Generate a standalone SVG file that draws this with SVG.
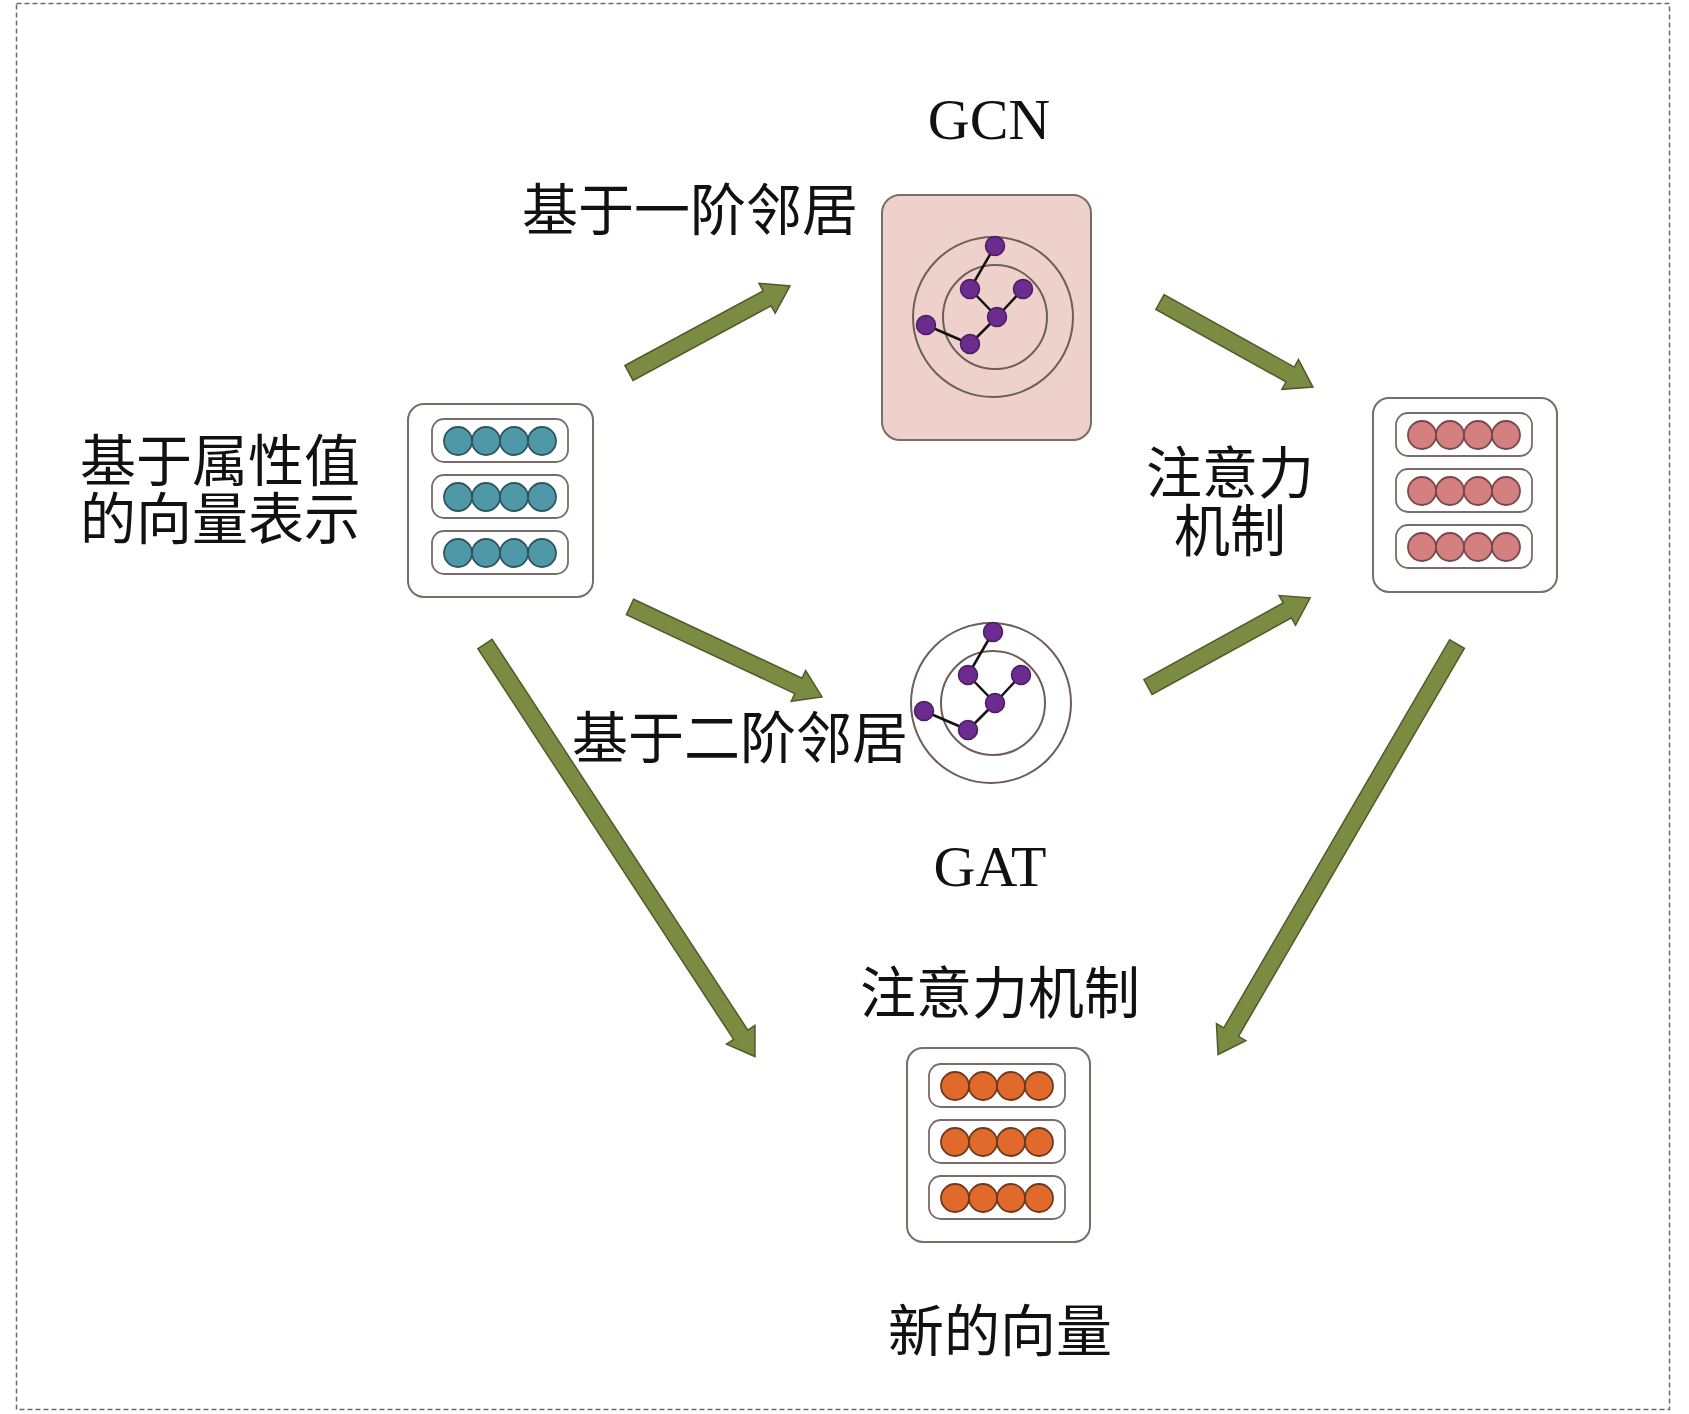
<svg xmlns="http://www.w3.org/2000/svg" width="1689" height="1414" viewBox="0 0 1689 1414">
<defs>
<style>
.frame{fill:none;stroke:#6b6b6b;stroke-width:1.5;stroke-dasharray:5 3}
.box{fill:#fff;stroke:#7a6c68;stroke-width:2}
.row{fill:#fff;stroke:#7a6c68;stroke-width:1.8}
.teal{fill:#4f98a8;stroke:#2e5560;stroke-width:1.8}
.pink{fill:#d47f80;stroke:#7a4748;stroke-width:1.8}
.orange{fill:#e0692b;stroke:#6b3a1e;stroke-width:1.8}
.gcnbox{fill:#efd1cc;stroke:#7a6c68;stroke-width:2}
.ring{fill:none;stroke:#6e5e5a;stroke-width:2}
.edge{stroke:#111;stroke-width:2.5}
.node{fill:#6c2b8e;stroke:#4a1c63;stroke-width:1.5}
.arrow{fill:#7b8b42;stroke:#4e5a2c;stroke-width:1.5}
.cjk{font-family:"Liberation Serif","Noto Sans CJK SC",serif;font-size:56px;fill:#111}
.lat{font-family:"Liberation Serif",serif;font-size:58px;fill:#111}
</style>
<g id="vec-teal">
<rect class="row" x="-68" y="-22" width="136" height="43" rx="12"/>
<circle class="teal" cx="-42" cy="0" r="14"/><circle class="teal" cx="-14" cy="0" r="14"/><circle class="teal" cx="14" cy="0" r="14"/><circle class="teal" cx="42" cy="0" r="14"/>
</g>
<g id="vec-pink">
<rect class="row" x="-68" y="-22" width="136" height="43" rx="12"/>
<circle class="pink" cx="-42" cy="0" r="14"/><circle class="pink" cx="-14" cy="0" r="14"/><circle class="pink" cx="14" cy="0" r="14"/><circle class="pink" cx="42" cy="0" r="14"/>
</g>
<g id="vec-orange">
<rect class="row" x="-68" y="-22" width="136" height="43" rx="12"/>
<circle class="orange" cx="-42" cy="0" r="14"/><circle class="orange" cx="-14" cy="0" r="14"/><circle class="orange" cx="14" cy="0" r="14"/><circle class="orange" cx="42" cy="0" r="14"/>
</g>
<g id="graph">
<circle class="ring" cx="-2" cy="0" r="80"/>
<circle class="ring" cx="0" cy="0" r="52"/>
<line class="edge" x1="0" y1="-71" x2="-25" y2="-28"/>
<line class="edge" x1="-25" y1="-28" x2="2" y2="0"/>
<line class="edge" x1="2" y1="0" x2="28" y2="-28"/>
<line class="edge" x1="2" y1="0" x2="-25" y2="27"/>
<line class="edge" x1="-25" y1="27" x2="-69" y2="8"/>
<circle class="node" cx="0" cy="-71" r="9.5"/>
<circle class="node" cx="-25" cy="-28" r="9.5"/>
<circle class="node" cx="28" cy="-28" r="9.5"/>
<circle class="node" cx="2" cy="0" r="9.5"/>
<circle class="node" cx="-69" cy="8" r="9.5"/>
<circle class="node" cx="-25" cy="27" r="9.5"/>
</g>
</defs>
<rect width="1689" height="1414" fill="#fff"/>
<rect class="frame" x="16.5" y="3.5" width="1653" height="1406"/>

<g id="connectors">
<path class="arrow" transform="translate(629,373) rotate(-28.4)" d="M0,-8.5 L157,-8.5 L157,-17 L183,0 L157,17 L157,8.5 L0,8.5 Z"/>
<path class="arrow" transform="translate(1160,302) rotate(29.1)" d="M0,-8.5 L149,-8.5 L149,-17 L175,0 L149,17 L149,8.5 L0,8.5 Z"/>
<path class="arrow" transform="translate(630,607) rotate(25.1)" d="M0,-8.5 L186,-8.5 L186,-17 L212,0 L186,17 L186,8.5 L0,8.5 Z"/>
<path class="arrow" transform="translate(1148,687) rotate(-28.8)" d="M0,-8.5 L159,-8.5 L159,-17 L185,0 L159,17 L159,8.5 L0,8.5 Z"/>
<path class="arrow" transform="translate(485,644) rotate(56.8)" d="M0,-8.5 L467,-8.5 L467,-17 L493,0 L467,17 L467,8.5 L0,8.5 Z"/>
<path class="arrow" transform="translate(1457,644) rotate(120.2)" d="M0,-8.5 L449,-8.5 L449,-17 L475,0 L449,17 L449,8.5 L0,8.5 Z"/>
</g>

<g id="node-input">
<rect class="box" x="408" y="404" width="185" height="193" rx="16"/>
<use href="#vec-teal" x="500" y="441"/>
<use href="#vec-teal" x="500" y="497"/>
<use href="#vec-teal" x="500" y="553"/>
<text class="cjk" x="80" y="481">基于属性值</text>
<text class="cjk" x="80" y="539">的向量表示</text>
</g>

<g id="node-gcn">
<rect class="gcnbox" x="882" y="195" width="209" height="245" rx="18"/>
<use href="#graph" x="995" y="317"/>
<text class="lat" x="989" y="139" text-anchor="middle">GCN</text>
<text class="cjk" x="690" y="230" text-anchor="middle">基于一阶邻居</text>
</g>

<g id="node-gat">
<use href="#graph" x="993" y="703"/>
<text class="lat" x="990" y="886" text-anchor="middle">GAT</text>
<text class="cjk" x="740" y="758" text-anchor="middle">基于二阶邻居</text>
</g>

<g id="node-attention">
<rect class="box" x="1373" y="398" width="184" height="194" rx="16"/>
<use href="#vec-pink" x="1464" y="435"/>
<use href="#vec-pink" x="1464" y="491"/>
<use href="#vec-pink" x="1464" y="547"/>
<text class="cjk" x="1230" y="493" text-anchor="middle">注意力</text>
<text class="cjk" x="1230" y="551" text-anchor="middle">机制</text>
</g>

<g id="node-output">
<rect class="box" x="907" y="1048" width="183" height="194" rx="16"/>
<use href="#vec-orange" x="997" y="1086"/>
<use href="#vec-orange" x="997" y="1142"/>
<use href="#vec-orange" x="997" y="1198"/>
<text class="cjk" x="1000" y="1013" text-anchor="middle">注意力机制</text>
<text class="cjk" x="1000" y="1351" text-anchor="middle">新的向量</text>
</g>
</svg>
